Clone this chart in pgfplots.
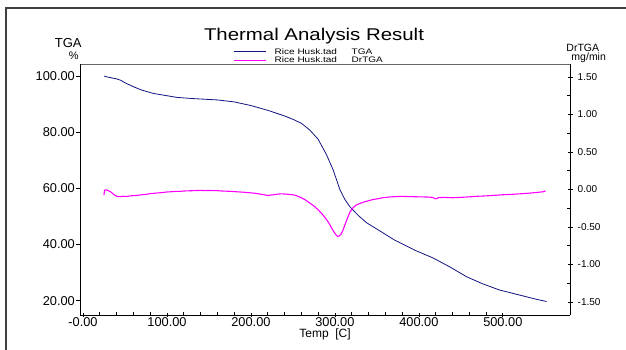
\documentclass[border=0pt]{standalone}
\usepackage{pgfplots}
\pgfplotsset{compat=1.18}
\usepackage{fontspec}
\setmainfont{Liberation Sans}
\newfontfamily\widefont{Liberation Sans}[FakeStretch=1.2]
\newfontfamily\legfont{Liberation Sans}[FakeStretch=1.25]
\definecolor{tganavy}{RGB}{20,20,130}
\definecolor{drmag}{RGB}{255,0,255}
\begin{document}
\begin{tikzpicture}[x=1pt,y=1pt]
\useasboundingbox (0,0) rectangle (626,350);
\draw[line width=1.2pt, black!75] (6,0) -- (6,342) -- (626,342);
\draw[line width=0.9pt, black!60] (80,286) -- (570,286);
\begin{axis}[at={(80pt,35pt)}, anchor=south west, scale only axis, width=490pt, height=251pt,
  xmin=-3.6, xmax=580, ymin=14.9, ymax=104.3,
  axis x line*=bottom, axis y line*=left,
  axis line style={line width=0.9pt, black, -},
  xtick={0,100,...,500}, xticklabels={-0.00,100.00,200.00,300.00,400.00,500.00},
  minor x tick num=4,
  ytick={20,40,60,80,100}, yticklabels={20.00,40.00,60.00,80.00,100.00},
  xtick align=center, ytick align=outside,
  major tick length=4pt, minor tick length=2.5pt,
  tick style={black, line width=0.7pt},
  minor tick style={yshift=1.25pt},
  ticklabel style={font=\fontsize{12.8}{14}\selectfont},
  xticklabel style={inner sep=0.5pt},
  yticklabel style={inner sep=1pt},
]
\addplot[color=tganavy, line width=0.8pt] table {
25 100.0
30 99.6
40 99.0
45 98.5
50 97.6
60 96.2
70 95.0
84 93.8
100 93.0
112 92.4
130 92.0
160 91.5
180 90.8
200 89.5
220 87.8
240 85.8
250 84.6
260 83.2
270 80.8
280 77.5
290 72
298 66.5
306 59.5
312 56
318 53.4
328 50.3
338 47.7
350 45.5
371 41.6
395 38.0
417 35.2
437 32.0
457 28.5
476 26.0
496 23.8
520 22.0
540 20.5
552 19.7
};
\end{axis}
\begin{axis}[at={(80pt,35pt)}, anchor=south west, scale only axis, width=490pt, height=251pt,
  xmin=-3.6, xmax=580, ymin=-1.673, ymax=1.673,
  axis x line=none, axis y line*=right,
  axis line style={line width=0.9pt, black, -},
  ytick={-1.5,-1,-0.5,0,0.5,1,1.5}, yticklabels={-1.50,-1.00,-0.50,0.00,0.50,1.00,1.50},
  minor y tick num=1,
  ytick align=center,
  major tick length=5pt, minor tick length=3pt,
  tick style={black, line width=0.7pt},
  minor tick style={xshift=-1.5pt},
  yticklabel style={font=\fontsize{10}{11}\selectfont, inner sep=1pt, xshift=4pt},
  legend style={at={(0.306,1.074)}, anchor=north west, draw=none, fill=none,
    font=\legfont\fontsize{8}{9}\selectfont, row sep=0pt,
    nodes={inner sep=0.5pt, text height=6pt, text depth=1.5pt}},
  legend cell align=left,
  legend image code/.code={\draw[#1] (0pt,0pt) -- (32pt,0pt);},
]
\addlegendimage{color=tganavy, line width=0.8pt}
\addlegendentry{\hspace*{8pt}\makebox[77pt][l]{Rice Husk.tad}TGA}
\addplot[color=drmag, line width=1.1pt] table {
25 -0.075
25.5 -0.01
28 -0.005
31 -0.02
34 -0.04
37 -0.07
40 -0.09
44 -0.095
48 -0.09
52 -0.093
56 -0.085
60 -0.082
65 -0.078
70 -0.07
75 -0.065
80 -0.055
85 -0.05
90 -0.045
95 -0.04
100 -0.033
105 -0.03
110 -0.025
115 -0.026
120 -0.02
125 -0.018
130 -0.016
135 -0.014
140 -0.012
145 -0.015
150 -0.013
155 -0.016
160 -0.015
165 -0.02
170 -0.022
175 -0.025
180 -0.028
185 -0.032
190 -0.035
195 -0.04
200 -0.045
205 -0.05
210 -0.06
215 -0.068
220 -0.08
223 -0.075
227 -0.07
232 -0.062
236 -0.058
240 -0.06
245 -0.065
250 -0.07
255 -0.085
260 -0.11
265 -0.14
270 -0.18
275 -0.22
280 -0.27
285 -0.33
290 -0.4
294 -0.47
298 -0.55
301 -0.6
303 -0.625
305 -0.62
307 -0.6
309 -0.56
311 -0.5
313 -0.44
315 -0.38
318 -0.3
321 -0.25
325 -0.21
330 -0.185
335 -0.165
340 -0.15
345 -0.135
350 -0.125
357 -0.11
365 -0.1
372 -0.095
380 -0.092
390 -0.095
400 -0.098
410 -0.1
416 -0.105
420 -0.125
423 -0.11
430 -0.105
440 -0.11
450 -0.105
460 -0.098
470 -0.09
480 -0.085
490 -0.078
500 -0.07
510 -0.065
520 -0.058
530 -0.05
540 -0.04
548 -0.03
551 -0.018
};
\addlegendentry{\hspace*{8pt}\makebox[77pt][l]{Rice Husk.tad}DrTGA}
\end{axis}
\node[font=\widefont\fontsize{17}{19}\selectfont, anchor=base] at (314,309.3) {Thermal Analysis Result};
\node[font=\fontsize{13}{15}\selectfont] at (68.3,307.3) {TGA};
\node[font=\fontsize{11}{13}\selectfont] at (73.7,294.2) {\%};
\node[font=\fontsize{10.5}{12}\selectfont, anchor=base] at (582.8,298) {DrTGA};
\node[font=\fontsize{10.5}{12}\selectfont, anchor=base] at (588.7,289) {mg/min};
\node[font=\fontsize{12}{14}\selectfont, anchor=base] at (325,12) {Temp\ \ [C]};
\end{tikzpicture}
\end{document}
